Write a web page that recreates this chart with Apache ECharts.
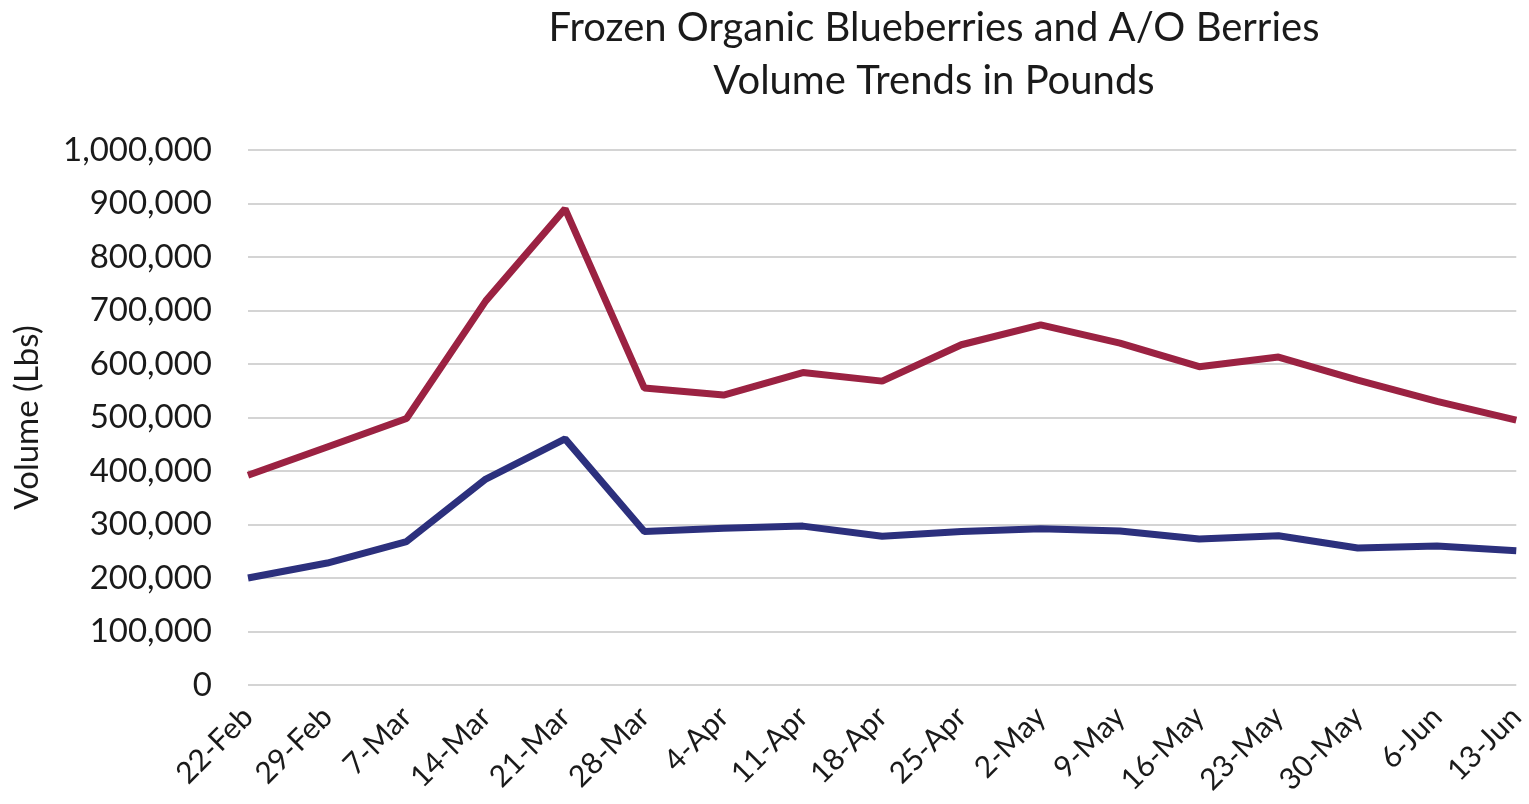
<!DOCTYPE html>
<html>
<head>
<meta charset="utf-8">
<script src="https://cdn.jsdelivr.net/npm/echarts@6/dist/echarts.min.js"></script>
<style>
html,body{margin:0;padding:0;background:#fff;}
#chart{width:1529px;height:804px;}
</style>
</head>
<body>
<div id="chart"></div>
<script>
const categories = ['22-Feb','29-Feb','7-Mar','14-Mar','21-Mar','28-Mar','4-Apr','11-Apr','18-Apr','25-Apr','2-May','9-May','16-May','23-May','30-May','6-Jun','13-Jun'];
const aoBerries = [392000,445000,498000,718000,890000,555000,542000,584000,568000,636000,673000,639000,595000,613000,570000,530000,495000];
const blueberries = [200000,228000,268000,385000,460000,287000,293000,297000,278000,287000,292000,288000,273000,279000,256000,260000,251000];
const titleText = 'Frozen Organic Blueberries and A/O Berries\nVolume Trends in Pounds';
const yAxisName = 'Volume (Lbs)';

const FONT = 'Lato';
const chart = echarts.init(document.getElementById('chart'));
chart.setOption({
  animation: false,
  backgroundColor: '#ffffff',
  title: {
    text: titleText,
    left: 929,
    textAlign: 'center',
    top: -3,
    textStyle: {fontFamily: FONT, fontSize: 40, fontWeight: 'normal', color: '#1a1a1a', lineHeight: 53}
  },
  grid: {left: 248, right: 8, top: 150, bottom: 119, containLabel: false},
  xAxis: {
    type: 'category',
    data: categories,
    boundaryGap: false,
    axisLine: {show: false},
    axisTick: {show: false},
    axisLabel: {rotate: 45, margin: 27, fontFamily: FONT, fontSize: 30, color: '#1a1a1a', interval: 0}
  },
  yAxis: {
    type: 'value',
    min: 0, max: 1000000, interval: 100000,
    name: yAxisName,
    nameLocation: 'middle',
    nameGap: 204,
    nameTextStyle: {fontFamily: FONT, fontSize: 33, color: '#1a1a1a'},
    axisLine: {show: false},
    axisTick: {show: false},
    axisLabel: {margin: 36, fontFamily: FONT, fontSize: 33, color: '#1a1a1a',
      formatter: v => v.toLocaleString('en-US')},
    splitLine: {lineStyle: {color: '#d4d4d4', width: 2}}
  },
  series: [
    {name: 'A/O Berries', type: 'line', data: aoBerries, symbol: 'none',
     lineStyle: {color: '#9b2242', width: 7}, itemStyle: {color: '#9b2242'}},
    {name: 'Blueberries', type: 'line', data: blueberries, symbol: 'none',
     lineStyle: {color: '#2c307d', width: 7}, itemStyle: {color: '#2c307d'}}
  ]
});
</script>
</body>
</html>
